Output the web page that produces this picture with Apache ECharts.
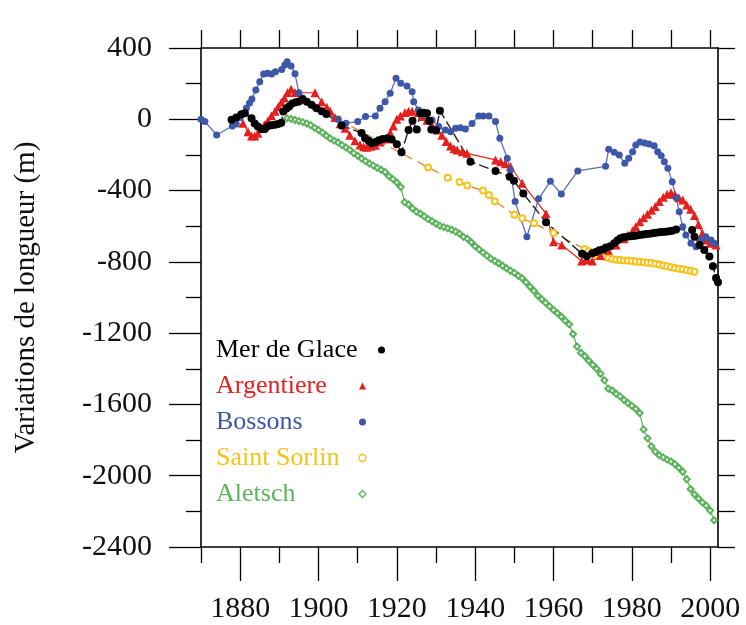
<!DOCTYPE html>
<html>
<head>
<meta charset="utf-8">
<script src="https://cdn.jsdelivr.net/npm/echarts@6/dist/echarts.min.js"></script>
<style>
html,body{margin:0;padding:0;background:#fff;}
#chart{width:746px;height:625px;}
</style>
</head>
<body>
<div id="chart"></div>
<script>
// ---- Data (year, length variation in m) ----
const merDeGlace = [
 [1877.8,-2],[1879,10],[1880.3,28],[1881.2,34],[1882.9,6],[1883.7,-24],[1884.5,-40],[1885.4,-55],[1886.3,-55],
 [1887.1,-38],[1888,-33],[1888.9,-30],[1889.7,-26],[1890.5,-20],[1891,43],[1891.8,60],[1892.5,72],[1893.3,88],
 [1894.2,95],[1895,100],[1895.9,112],[1897,98],[1898.2,82],[1899.5,62],[1900.8,45],[1902,30],[1905.9,-35],
 [1911,-77],[1911.9,-107],[1912.8,-120],[1913.6,-135],[1914.5,-128],[1915.4,-118],[1916.4,-110],[1917.6,-107],
 [1918.7,-114],[1920,-140],[1921.2,-185],[1923,-60],[1924,-8],[1925.1,-58],[1926,34],[1926.8,37],[1927.7,34],
 [1928.3,-10],[1928.8,-58],[1930,-62],[1931,48],[1938.8,-238],[1945.2,-290],[1948.8,-322],[1949.9,-345],
 [1952.3,-417],[1958.1,-578],[1967.3,-755],[1968.5,-768],[1969.9,-752],[1970.8,-745],[1971.7,-735],[1972.6,-730],
 [1973.4,-720],[1974.5,-712],[1975.5,-696],[1976.3,-680],[1977.1,-668],[1977.9,-662],[1978.8,-659],[1979.6,-657],
 [1980.4,-655],[1981.2,-652],[1982,-649],[1982.9,-647],[1983.7,-644],[1984.5,-642],[1985.3,-640],[1986.1,-637],
 [1987,-634],[1987.8,-632],[1988.7,-631],[1989.5,-628],[1990.3,-625],[1991.3,-618],[1995.4,-621],[1996,-659],
 [1997.3,-705],[1998.5,-733],[1999.8,-770],[2000.7,-825],[2001.5,-890],[2002,-915]
];
const argentiere = [
 [1880.7,-22],[1882,-70],[1882.9,-94],[1883.7,-94],[1884.5,-79],[1885.4,-51],[1886.2,-30],[1887.1,-8],[1888,20],
 [1888.9,45],[1889.7,70],[1890.5,95],[1891.3,120],[1892.1,150],[1893,168],[1894,150],[1899.1,149],[1900.8,99],
 [1902.1,67],[1903,45],[1904.2,10],[1905.5,-25],[1906.8,-50],[1908,-90],[1909.3,-120],[1910.6,-144],[1911.5,-154],
 [1912.3,-157],[1913.4,-152],[1914.5,-145],[1915.7,-128],[1917,-110],[1918.3,-75],[1919.1,-38],[1920,0],[1920.9,18],
 [1922.1,38],[1923,45],[1923.9,45],[1925.5,37],[1926.8,15],[1927.7,-5],[1929,-35],[1930.3,-60],[1931.5,-90],
 [1932.6,-125],[1933.7,-150],[1934.6,-165],[1935.4,-172],[1936.7,-182],[1937.9,-191],[1945.2,-228],[1946.5,-238],
 [1947.7,-250],[1949,-265],[1952,-359],[1958.1,-530],[1960,-687],[1962.1,-705],[1967.2,-795],[1968.5,-790],
 [1969.9,-795],[1972,-765],[1974,-735],[1976,-705],[1978,-670],[1979,-650],[1980.2,-625],[1981,-603],[1982,-575],
 [1983,-552],[1984,-533],[1985,-510],[1986,-490],[1987,-462],[1988,-438],[1989,-420],[1990,-412],[1991,-422],
 [1992,-440],[1993,-453],[1994,-481],[1995,-505],[1996,-540],[1997,-590],[1998,-640],[1999,-677],[2000,-696],
 [2001.5,-705]
];
const bossons = [
 [1870,0],[1871,-13],[1874,-88],[1878,-38],[1879,-27],[1880,10],[1881.6,63],[1882.4,91],[1883,114],[1884,164],
 [1885,211],[1886,254],[1887,258],[1888,254],[1889,267],[1890.6,280],[1891.4,305],[1892,323],[1893,299],[1894,255],
 [1895,149],[1896,120],[1899,70],[1902,30],[1905,0],[1907,-22],[1910,-13],[1912,15],[1914.5,18],[1915.7,62],
 [1917,99],[1918.3,146],[1919.8,230],[1921,202],[1922.6,187],[1923.9,155],[1924.3,99],[1925.5,52],[1927.3,24],
 [1929,-4],[1930.7,-41],[1932.4,-60],[1933.7,-70],[1935,-51],[1936.2,-47],[1937.5,-55],[1939.2,-23],[1940.9,18],
 [1942,18],[1943.5,18],[1945.2,-13],[1946.3,-107],[1948.2,-219],[1949,-285],[1950.2,-462],[1953.2,-659],
 [1956.2,-446],[1959.2,-348],[1962,-419],[1966.2,-290],[1973.3,-264],[1974.1,-168],[1975.5,-185],[1976.8,-200],
 [1978.2,-247],[1979.2,-219],[1980.2,-182],[1981,-144],[1982.1,-127],[1983.3,-133],[1984.4,-139],[1985.7,-148],
 [1986.6,-182],[1987.5,-205],[1988.3,-238],[1989.2,-275],[1990.3,-350],[1991.3,-440],[1992.1,-519],[1993,-603],
 [1993.8,-649],[1995.1,-696],[1996.4,-715],[1997.7,-677],[1998.9,-659],[2000.2,-677],[2001,-696]
];
const saintSorlin = [
 [1905,0],[1928,-270],[1933,-328],[1936,-352],[1938,-372],[1942,-400],[1943.5,-425],[1945,-460],[1950,-535],
 [1952,-556],[1955,-584],[1960,-638],[1968,-728],[1969,-740],[1970,-750],[1971,-760],[1972,-768],[1973,-772],
 [1974,-778],[1975,-784],[1976,-788],[1977,-790],[1978,-792],[1979,-792],[1980,-795],[1981,-798],[1982,-800],
 [1983,-802],[1984,-805],[1985,-806],[1986,-810],[1987,-815],[1988,-820],[1989,-825],[1990,-830],[1991,-834],
 [1992,-838],[1993,-842],[1994,-846],[1995,-850],[1996,-855]
];
const aletsch = [
 [1892,5],[1893,2],[1894,-4],[1895,-10],[1896,-16],[1897,-24],[1898,-33],[1899,-48],[1900,-60],[1901,-75],
 [1902,-92],[1903,-108],[1904,-120],[1905,-130],[1906,-145],[1907,-158],[1908,-172],[1909,-190],[1910,-205],
 [1911,-220],[1912,-235],[1913,-248],[1914,-260],[1915,-272],[1916,-283],[1917,-296],[1918,-320],[1919,-336],
 [1920,-355],[1921,-380],[1922,-465],[1923,-478],[1924,-500],[1925,-518],[1926,-530],[1927,-545],[1928,-560],
 [1929,-572],[1930,-585],[1931,-598],[1932,-605],[1933,-612],[1934,-620],[1935,-630],[1936,-642],[1937,-660],
 [1938,-670],[1939,-690],[1940,-712],[1941,-730],[1942,-748],[1943,-765],[1944,-782],[1945,-795],[1946,-808],
 [1947,-822],[1948,-836],[1949,-850],[1950,-862],[1951,-878],[1952,-892],[1953,-915],[1954,-940],[1955,-962],
 [1956,-990],[1957,-1010],[1958,-1030],[1959,-1050],[1960,-1070],[1961,-1088],[1962,-1108],[1963,-1130],
 [1964,-1150],[1965,-1205],[1966,-1275],[1967,-1310],[1968,-1330],[1969,-1355],[1970,-1378],[1971,-1400],
 [1972,-1428],[1973,-1465],[1974,-1512],[1975,-1522],[1976,-1540],[1977,-1555],[1978,-1575],[1979,-1592],
 [1980,-1608],[1981,-1625],[1982,-1648],[1983,-1740],[1984,-1790],[1985,-1835],[1986,-1865],[1987,-1885],
 [1988,-1897],[1989,-1910],[1990,-1920],[1991,-1935],[1992,-1955],[1993,-1978],[1994,-2020],[1995,-2075],
 [1996,-2105],[1997,-2128],[1998,-2150],[1999,-2168],[2000,-2195],[2001,-2250]
];
const seriesNames = ['Mer de Glace','Argentiere','Bossons','Saint Sorlin','Aletsch'];
const majorYears = [1880,1900,1920,1940,1960,1980,2000];
const minorYears = [1870,1890,1910,1930,1950,1970,1990];
const topYears = [1870,1880,1890,1900,1910,1920,1930,1940,1950,1960,1970,1980,1990,2000];
const xMin = 1870, xMax = 2002;
const yMin = -2400, yMax = 400, yStep = 400;
const yTitle = 'Variations de longueur (m)';

// ---- Styles ----
const FONT = '"Liberation Serif","DejaVu Serif",serif';
const colors = {
  'Mer de Glace':'#000000','Argentiere':'#e3211f','Bossons':'#3f57a8',
  'Saint Sorlin':'#f7c21b','Aletsch':'#5cb35c'
};
const AX = '#000';
const plain = (v)=>String(v);

function xAxisDef(pos, values, len, showLabel, showLine){
  return {
    type:'value', position:pos, min:xMin, max:xMax, gridIndex:0,
    axisLine:{show:showLine, onZero:false, lineStyle:{color:AX, width:1.6}},
    axisTick:{show:true, customValues:values, length:len, lineStyle:{color:AX, width:1.3}},
    axisLabel:{show:showLabel, customValues:values, formatter:plain, fontFamily:FONT, fontSize:30, color:'#111', margin:47},
    splitLine:{show:false}
  };
}
function yAxisDef(pos, showLabel, len, minorLen){
  return {
    type:'value', position:pos, min:yMin, max:yMax, interval:yStep,
    axisLine:{show:true, onZero:false, lineStyle:{color:AX, width:1.6}},
    axisTick:{show:true, length:len, lineStyle:{color:AX, width:1.3}},
    minorTick:{show:true, splitNumber:2, length:minorLen, lineStyle:{color:AX, width:1.3}},
    axisLabel:{show:showLabel, formatter:plain, fontFamily:FONT, fontSize:30, color:'#111', margin:49},
    splitLine:{show:false}, minorSplitLine:{show:false},
    name: showLabel ? yTitle : '', nameLocation:'middle', nameGap:160, nameRotate:90,
    nameTextStyle:{fontFamily:FONT, fontSize:29, color:'#111'}
  };
}

function legendItem(name){
  const hollow = name==='Saint Sorlin' || name==='Aletsch';
  const icon = name==='Argentiere' ? 'triangle' : (name==='Aletsch' ? 'diamond' : 'circle');
  return {name:name, icon:icon,
    itemStyle: hollow ? {color:'#fff', borderColor:colors[name], borderWidth:1.4} : {color:colors[name]}};
}
function legendDef(names, top, width){
  const rich = {};
  names.forEach((n,i)=>{ rich['s'+i] = {color:colors[n], fontFamily:FONT, fontSize:26, align:'left', width:width}; });
  return {
    orient:'vertical', left:216, top:top, align:'right', itemGap:10, padding:0,
    itemWidth:7, itemHeight:7, selectedMode:false,
    formatter:(name)=>'{s'+names.indexOf(name)+'|'+name+'}',
    textStyle:{fontFamily:FONT, fontSize:26, rich:rich},
    data:names.map(legendItem)
  };
}

const option = {
  animation:false,
  backgroundColor:'#fff',
  grid:{left:201, right:28, top:48, bottom:78, containLabel:false},
  xAxis:[
    xAxisDef('bottom', majorYears, 34, true, true),
    xAxisDef('bottom', minorYears, 16, false, false),
    xAxisDef('top', topYears, 18, false, true)
  ],
  yAxis:[ yAxisDef('left', true, 32, 15), yAxisDef('right', false, 17, 17) ],
  legend:[
    legendDef(seriesNames.slice(0,1), 337, 157),
    legendDef(seriesNames.slice(1), 373, 138)
  ],
  series:[
    {name:'Aletsch', type:'line', data:aletsch, symbol:'emptyDiamond', symbolSize:6,
     itemStyle:{color:colors['Aletsch'], borderWidth:1.3}, lineStyle:{color:colors['Aletsch'], width:1.2}},
    {name:'Saint Sorlin', type:'line', data:saintSorlin, symbol:'emptyCircle', symbolSize:6,
     itemStyle:{color:colors['Saint Sorlin'], borderWidth:1.3}, lineStyle:{color:'#ec8a3a', width:1.4, type:[9,6]}},
    {name:'Argentiere', type:'line', data:argentiere, symbol:'triangle', symbolSize:9,
     itemStyle:{color:colors['Argentiere']}, lineStyle:{color:colors['Argentiere'], width:1.2}},
    {name:'Bossons', type:'line', data:bossons, symbol:'circle', symbolSize:7,
     itemStyle:{color:colors['Bossons']}, lineStyle:{color:'#5a6fb8', width:1.3}},
    {name:'Mer de Glace', type:'line', data:merDeGlace, symbol:'circle', symbolSize:8,
     itemStyle:{color:colors['Mer de Glace']}, lineStyle:{color:'#222', width:1.4, type:[10,4]}}
  ]
};
echarts.init(document.getElementById('chart'), null, {renderer:'canvas'}).setOption(option);
</script>
</body>
</html>
